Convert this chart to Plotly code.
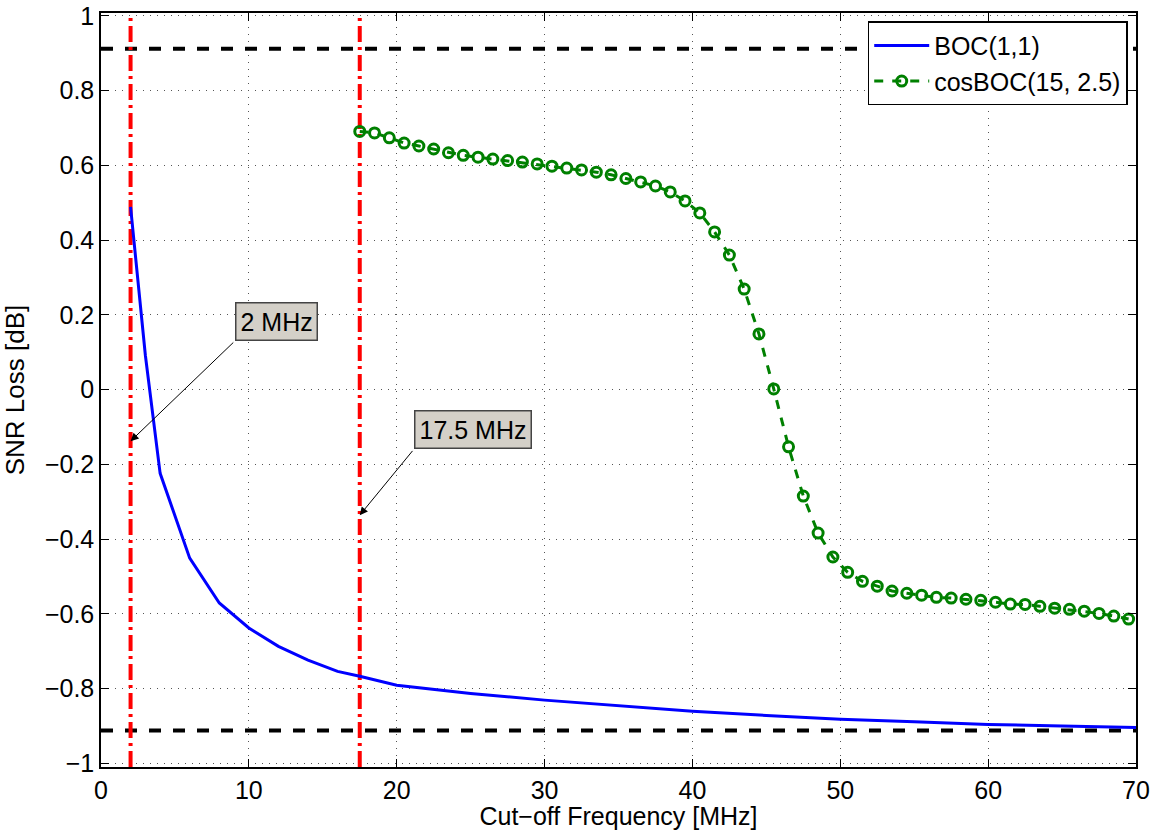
import plotly.graph_objects as go

boc_x = [2, 3, 4, 6, 8, 10, 12, 14, 16, 17.5, 20, 25, 30, 35, 40, 45, 50, 55, 60, 65, 70]
boc_y = [0.489, 0.092, -0.224, -0.451, -0.571, -0.638, -0.687, -0.724, -0.754, -0.767,
         -0.791, -0.813, -0.831, -0.847, -0.861, -0.872, -0.882, -0.889, -0.896, -0.900, -0.904]

cos_x = [17.5 + i for i in range(53)]
cos_y = [0.691, 0.687, 0.674, 0.660, 0.652, 0.644, 0.634, 0.627, 0.622, 0.617,
         0.613, 0.609, 0.604, 0.598, 0.593, 0.588, 0.582, 0.575, 0.565, 0.556,
         0.545, 0.529, 0.505, 0.473, 0.422, 0.360, 0.269, 0.149, 0.002, -0.153,
         -0.285, -0.384, -0.448, -0.489, -0.513, -0.526, -0.539, -0.545, -0.550, -0.556,
         -0.558, -0.561, -0.564, -0.569, -0.574, -0.575, -0.580, -0.585, -0.588, -0.593,
         -0.599, -0.606, -0.614]

limit_levels = [0.912, -0.912]
cutoffs = [2, 17.5]
cutoff_labels = ["2 MHz", "17.5 MHz"]
arrow_tips_y = [-0.138, -0.336]
label_pos = [(9.05, 0.13), (21.15, -0.16)]

x_ticks = [0, 10, 20, 30, 40, 50, 60, 70]
y_ticks = [1, 0.8, 0.6, 0.4, 0.2, 0, -0.2, -0.4, -0.6, -0.8, -1]
y_tick_text = ["1", "0.8", "0.6", "0.4", "0.2", "0", "\u22120.2", "\u22120.4", "\u22120.6", "\u22120.8", "\u22121"]

FONT = "Liberation Sans, Arial, sans-serif"

fig = go.Figure()

for lv in limit_levels:
    fig.add_trace(go.Scatter(x=[0, 70], y=[lv, lv], mode="lines",
                             line=dict(color="black", width=4, dash="dash"),
                             showlegend=False, hoverinfo="skip"))
for c in cutoffs:
    fig.add_trace(go.Scatter(x=[c, c], y=[-1.01, 1.01], mode="lines",
                             line=dict(color="red", width=4, dash="16px,5px,3px,5px"),
                             showlegend=False, hoverinfo="skip"))

fig.add_trace(go.Scatter(x=boc_x, y=boc_y, mode="lines", name="BOC(1,1)",
                         line=dict(color="#0000ff", width=3)))
fig.add_trace(go.Scatter(x=cos_x, y=cos_y, mode="lines+markers", name="cosBOC(15, 2.5)",
                         line=dict(color="#008000", width=3, dash="dash"),
                         marker=dict(symbol="circle-open", size=10, color="#008000",
                                     line=dict(width=3, color="#008000"))))

for c, lab, ty, (lx, ly) in zip(cutoffs, cutoff_labels, arrow_tips_y, label_pos):
    fig.add_annotation(x=c, y=ty, ax=lx, ay=ly, xref="x", yref="y", axref="x", ayref="y",
                       text="", showarrow=True, arrowhead=2, arrowsize=1.6,
                       arrowwidth=1, arrowcolor="black", standoff=0)
    fig.add_annotation(x=lx, y=ly, xref="x", yref="y", text=lab, showarrow=False,
                       xanchor="left", yanchor="bottom",
                       bgcolor="#d4d0c8", bordercolor="#444444", borderwidth=1.5, borderpad=4,
                       font=dict(family=FONT, size=25, color="black"))

axis_common = dict(showline=True, linecolor="black", linewidth=1.5, mirror="ticks",
                   ticks="inside", ticklen=8, tickcolor="black",
                   showgrid=True, gridcolor="#555555", griddash="1px,6px", gridwidth=1,
                   zeroline=False, automargin=False, ticklabeloverflow="allow",
                   tickfont=dict(family=FONT, size=25, color="black"))

fig.update_xaxes(range=[0, 70], tickvals=x_ticks,
                 title=dict(text="Cut\u2212off Frequency [MHz]",
                            font=dict(family=FONT, size=25, color="black")),
                 **axis_common)
fig.update_yaxes(range=[-1.01, 1.008], tickvals=y_ticks, ticktext=y_tick_text,
                 title=dict(text="SNR Loss [dB]",
                            font=dict(family=FONT, size=26, color="black")),
                 **axis_common)

fig.update_layout(
    width=1155, height=830,
    margin=dict(l=101, r=19, t=13, b=63),
    plot_bgcolor="white", paper_bgcolor="white",
    legend=dict(x=0.992, y=0.989, xanchor="right", yanchor="top",
                bgcolor="white", bordercolor="black", borderwidth=1.5,
                font=dict(family=FONT, size=25, color="black"),
                tracegroupgap=0, itemwidth=55),
)

fig.write_html("out.html", config={"displayModeBar": False},
               post_script="document.body.style.margin='0';")
